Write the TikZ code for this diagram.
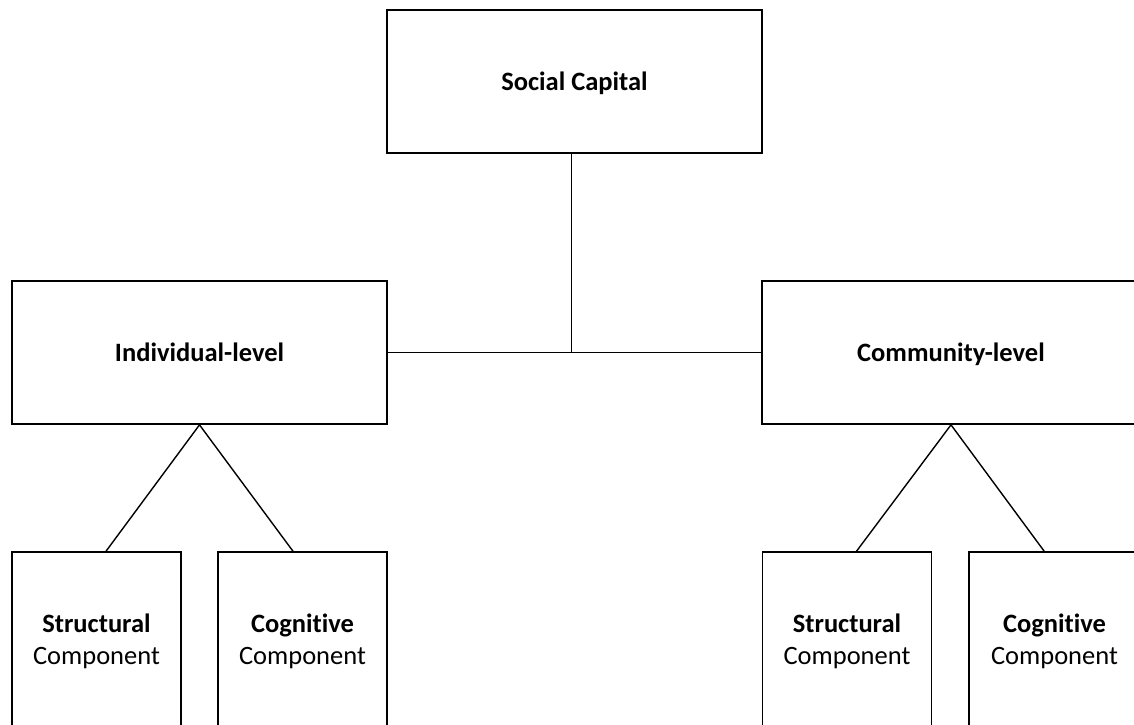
\documentclass[tikz,border=0pt]{standalone}
\usepackage{fontspec}
\setmainfont{Carlito}[Ligatures=NoCommon]
\usetikzlibrary{calc}
\begin{document}
\begin{tikzpicture}[x=1pt,y=-1pt,
  box/.style={draw=black,line width=1.7pt,rectangle,inner sep=0pt,align=center,
    font=\fontsize{26.5}{32}\selectfont},
  bigbox/.style={box,minimum width=375pt,minimum height=143pt,text depth=0pt},
  compbox/.style={box,minimum width=169pt,minimum height=178pt},
  link/.style={draw=black,line width=1.4pt}]
\useasboundingbox (0,0) rectangle (1134,724);
\clip (0,0) rectangle (1134,724);
\node[bigbox] (sc) at (574.5,81.5) {\textbf{Social Capital}};
\node[bigbox] (ind) at (199.5,352.5) {\textbf{Individual-level}};
\node[bigbox,minimum width=378pt] (com) at (951,352.5) {\textbf{Community-level}};
\node[compbox] (s1) at (96.5,641) {\textbf{Structural}\\Component};
\node[compbox] (c1) at (302.5,641) {\textbf{Cognitive}\\Component};
\node[compbox] (s2) at (847,641) {\textbf{Structural}\\Component};
\node[compbox,minimum width=171pt] (c2) at (1054.5,641) {\textbf{Cognitive}\\Component};
\draw[link] (ind.east) -- (com.west);
\draw[link] ([xshift=-3pt]sc.south) -- ([xshift=-3pt]sc.south |- ind.east);
\draw[link] ($(s1.north west)!0.556!(s1.north east)$) -- (ind.south) -- ($(c1.north west)!0.444!(c1.north east)$);
\draw[link] ($(s2.north west)!0.556!(s2.north east)$) -- (com.south) -- ($(c2.north west)!0.44!(c2.north east)$);
\end{tikzpicture}
\end{document}
